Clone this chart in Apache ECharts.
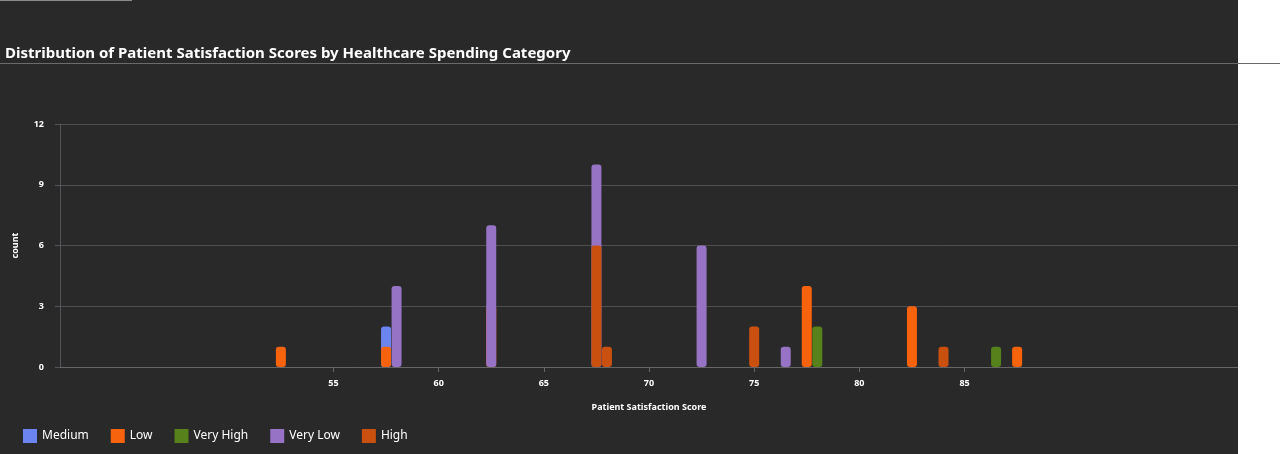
<!DOCTYPE html>
<html>
<head>
<meta charset="utf-8">
<script src="https://cdn.jsdelivr.net/npm/echarts@6/dist/echarts.min.js"></script>
<style>
  body { margin: 0; background: #ffffff; }
  #main { position: absolute; left: 0; top: 0; width: 1238px; height: 454px; background: #292929; }
  #rule { position: absolute; left: 0; top: 63px; width: 1280px; height: 1px; background: #6b6b6b; }
  #topline { position: absolute; left: 0; top: 0; width: 132px; height: 1px; background: #8a8a8a; }
</style>
</head>
<body>
<div id="main"></div>
<div id="rule"></div>
<div id="topline"></div>
<script>
// 各类别数据 [满意度分数, 数量]
var medium = [[57.5, 2]];
var low = [[52.5, 1], [57.5, 1], [62.5, 3], [77.5, 4], [82.5, 3], [87.5, 1]];
var veryHigh = [[78, 2], [86.5, 1]];
var veryLow = [[58, 4], [62.5, 7], [67.5, 10], [72.5, 6], [76.5, 1]];
var high = [[67.5, 6], [68, 1], [75, 2], [84, 1]];
var xTicks = [55, 60, 65, 70, 75, 80, 85];

var names = ['Medium', 'Low', 'Very High', 'Very Low', 'High'];
var colors = ['#6b84f0', '#f7630c', '#57811b', '#9673c4', '#ca5010'];
var datas = [medium, low, veryHigh, veryLow, high];

var series = [];
for (var i = 0; i < names.length; i++) {
    series.push({
        name: names[i],
        type: 'bar',
        data: datas[i],
        barWidth: 10,
        barGap: '-100%',
        itemStyle: { color: colors[i], borderRadius: 3 }
    });
}

var myChart = echarts.init(document.getElementById('main'));
var option = {
    backgroundColor: '#292929',
    textStyle: { fontFamily: 'Noto Sans' },
    title: {
        text: 'Distribution of Patient Satisfaction Scores by Healthcare Spending Category',
        left: 0, top: 41,
        textStyle: { color: '#ffffff', fontSize: 15, fontWeight: 'bold' }
    },
    legend: {
        left: 18, bottom: 6,
        itemWidth: 14, itemHeight: 14, itemGap: 22,
        icon: 'rect',
        textStyle: { color: '#ffffff', fontSize: 12 },
        data: names
    },
    grid: { left: 60, right: 0, top: 124, bottom: 87 },
    xAxis: {
        type: 'value',
        min: 42, max: 98,
        name: 'Patient Satisfaction Score',
        nameLocation: 'middle', nameGap: 36,
        nameTextStyle: { color: '#ffffff', fontSize: 9, fontWeight: 'bold' },
        axisLine: { lineStyle: { color: '#666' } },
        axisTick: { show: true, customValues: xTicks, length: 5, lineStyle: { color: '#666' } },
        axisLabel: { customValues: xTicks, color: '#ffffff', fontSize: 9, fontWeight: 'bold', margin: 12 },
        splitLine: { show: false }
    },
    yAxis: {
        type: 'value',
        min: 0, max: 12, interval: 3,
        name: 'count',
        nameLocation: 'middle', nameGap: 40, nameRotate: 90,
        nameTextStyle: { color: '#ffffff', fontSize: 9, fontWeight: 'bold' },
        axisLabel: { color: '#ffffff', fontSize: 9, fontWeight: 'bold', margin: 16 },
        splitLine: { lineStyle: { color: '#4f4f4f' } }
    },
    series: series
};
myChart.setOption(option, true);
</script>
</body>
</html>
